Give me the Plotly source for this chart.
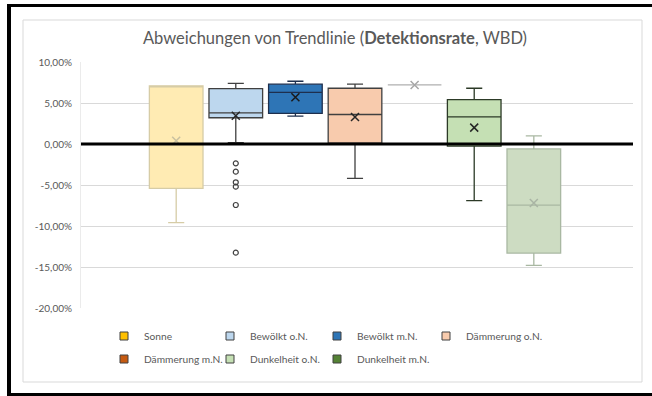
import plotly.graph_objects as go

# ---- data -------------------------------------------------------------
categories = ["Sonne", "Bewölkt o.N.", "Bewölkt m.N.", "Dämmerung o.N.",
              "Dämmerung m.N.", "Dunkelheit o.N.", "Dunkelheit m.N."]
q1 = [-0.054, 0.032, 0.0374, 0.001, 0.072, -0.0025, -0.133]
median = [0.071, 0.038, 0.063, 0.036, 0.072, 0.033, -0.0745]
q3 = [0.071, 0.0675, 0.073, 0.068, 0.072, 0.054, -0.006]
lower_fence = [-0.096, 0.0015, 0.034, -0.042, 0.072, -0.069, -0.148]
upper_fence = [0.071, 0.074, 0.0765, 0.073, 0.072, 0.068, 0.010]
means = [0.004, 0.0345, 0.057, 0.033, 0.072, 0.020, -0.072]

outlier_category = "Bewölkt o.N."
outliers = [-0.0236, -0.0337, -0.0467, -0.052, -0.0744, -0.1325]

tick_values = [0.10, 0.05, 0.0, -0.05, -0.10, -0.15, -0.20]
tick_labels = ["10,00%", "5,00%", "0,00%", "-5,00%", "-10,00%", "-15,00%", "-20,00%"]

# ---- styling ------------------------------------------------------------
box_fill = ["#FFEBB3", "#BDD7EE", "#2E75B6", "#F8CBAD", "#A6A6A6", "#C5E0B4", "#CDDCC2"]
box_line = ["#D6CCA6", "#404040", "#1E2F4D", "#404040", "#B0B0B0", "#2C3A27", "#A9B8A2"]
mean_color = ["#C9C0A0", "#262626", "#1A1A1A", "#262626", "#A6A6A6", "#262626", "#A9B4A4"]
legend_color = ["#FFC000", "#BDD7EE", "#2E75B6", "#F8CBAD", "#C55A11", "#C5E0B4", "#548235"]

FONT = "Lato"
TEXT = "#595959"

W, H = 652, 396
L, R, T, B = 81, 19, 62, 88
PW, PH = W - L - R, H - T - B

# legend grid: four columns, two rows (left edge of each entry, row centre)
legend_cols = [104, 210, 317, 426]
legend_rows = [336, 359]


def px_x(px):
    return (px - L) / PW


def px_y(py):
    return (H - B - py) / PH


fig = go.Figure()

for i, cat in enumerate(categories):
    fig.add_trace(go.Box(
        x=[cat], q1=[q1[i]], median=[median[i]], q3=[q3[i]],
        lowerfence=[lower_fence[i]], upperfence=[upper_fence[i]],
        width=0.9, whiskerwidth=0.3, boxpoints=False,
        fillcolor=box_fill[i], line=dict(color=box_line[i], width=1.3),
        showlegend=False, hoverinfo="skip",
    ))

# mean markers
fig.add_trace(go.Scatter(
    x=categories, y=means, mode="markers", showlegend=False, hoverinfo="skip",
    marker=dict(symbol="x-thin", size=8, line=dict(width=1.5, color=mean_color)),
))

# outliers
fig.add_trace(go.Scatter(
    x=[outlier_category] * len(outliers), y=outliers, mode="markers",
    showlegend=False, hoverinfo="skip",
    marker=dict(symbol="circle-open", size=5, color="#404040", line=dict(width=1.2)),
))

# one legend per entry so that every column sits on a fixed grid
legend_layouts = {}
for i, cat in enumerate(categories):
    key = "legend" if i == 0 else f"legend{i + 1}"
    fig.add_trace(go.Scatter(
        x=[None], y=[None], mode="markers", name=cat, legend=key,
        marker=dict(symbol="square", size=8, color=legend_color[i],
                    line=dict(width=1, color="#404040")),
    ))
    legend_layouts[key] = dict(
        orientation="h", xanchor="left", yanchor="middle",
        x=px_x(legend_cols[i % 4]), y=px_y(legend_rows[i // 4]),
        font=dict(family=FONT, size=10.2, color=TEXT),
        bgcolor="rgba(0,0,0,0)", itemclick=False, itemdoubleclick=False,
    )

shapes = [
    # outer chart frame
    dict(type="rect", xref="paper", yref="paper",
         x0=px_x(23), x1=px_x(642), y0=px_y(382), y1=px_y(20),
         line=dict(color="#D9D9D9", width=1), layer="below"),
    # black page border
    dict(type="rect", xref="paper", yref="paper",
         x0=px_x(7), x1=px_x(11), y0=px_y(396), y1=px_y(4),
         fillcolor="black", line=dict(width=0)),
    dict(type="rect", xref="paper", yref="paper",
         x0=px_x(7), x1=px_x(652), y0=px_y(7), y1=px_y(4),
         fillcolor="black", line=dict(width=0)),
    dict(type="rect", xref="paper", yref="paper",
         x0=px_x(7), x1=px_x(652), y0=px_y(396), y1=px_y(393),
         fillcolor="black", line=dict(width=0)),
    # horizontal category axis crossing at 0
    dict(type="line", xref="paper", yref="y", x0=0, x1=1, y0=0, y1=0,
         line=dict(color="black", width=3), layer="above"),
]

fig.update_layout(
    width=W, height=H,
    margin=dict(l=L, r=R, t=T, b=B, autoexpand=False),
    paper_bgcolor="white", plot_bgcolor="white",
    boxmode="overlay",
    title=dict(
        text="Abweichungen von Trendlinie (<b>Detektionsrate</b>, WBD)",
        x=335 / W, xref="container", xanchor="center",
        y=1 - 38 / H, yref="container", yanchor="middle",
        font=dict(family=FONT, size=16.5, color=TEXT),
    ),
    xaxis=dict(
        type="category", categoryorder="array", categoryarray=categories,
        range=[-1.597, 7.664], showticklabels=False, showgrid=False,
        zeroline=False, showline=False, ticks="", fixedrange=True,
    ),
    yaxis=dict(
        range=[-0.2, 0.1], tickvals=tick_values, ticktext=tick_labels,
        showgrid=True, gridcolor="#D9D9D9", gridwidth=1,
        zeroline=False, showline=True, linecolor="#EBEBEB", linewidth=1,
        ticks="", ticklabelstandoff=6, fixedrange=True,
        tickfont=dict(family=FONT, size=10, color=TEXT),
    ),
    shapes=shapes,
    **legend_layouts,
)

fig.write_html("out.html")
